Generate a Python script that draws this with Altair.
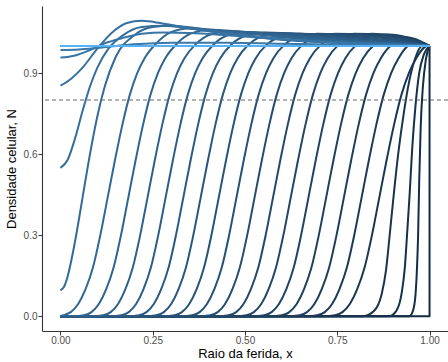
import altair as alt
import numpy as np
import pandas as pd

# ---- values ----
# t = 0 : initial step at the right edge
T0_X = [0.0, 1.0, 1.0]
T0_N = [0.0, 0.0, 1.0]
# early (steep) fronts
T1_X = [0.0, 0.945, 0.955, 0.962, 0.966, 0.969, 0.972, 0.976, 0.982, 0.99, 1.0]
T1_N = [0.0, 0.0, 0.02, 0.08, 0.18, 0.30, 0.50, 0.70, 0.85, 0.95, 1.0]
T2_X = [0.0, 0.89, 0.91, 0.925, 0.933, 0.939, 0.946, 0.953, 0.962, 0.972, 0.985, 1.0]
T2_N = [0.0, 0.0, 0.02, 0.09, 0.18, 0.30, 0.45, 0.62, 0.78, 0.90, 0.97, 1.0]
T3_X = [0.0, 0.82, 0.85, 0.87, 0.882, 0.892, 0.903, 0.915, 0.93, 0.945, 0.96, 0.98, 1.0]
T3_N = [0.0, 0.0, 0.02, 0.08, 0.17, 0.30, 0.45, 0.60, 0.75, 0.87, 0.95, 1.0, 1.0]
# travelling-front profile (offset from the x where N = 0.3)
PROF_DX = [-0.13, -0.10, -0.08, -0.06, -0.04, -0.02, 0.0, 0.02, 0.04, 0.06, 0.08,
           0.10, 0.12, 0.15, 0.19, 0.24, 0.32, 0.42, 0.55, 0.70]
PROF_N = [0.0, 0.004, 0.015, 0.045, 0.10, 0.18, 0.30, 0.44, 0.58, 0.71, 0.82,
          0.90, 0.955, 1.005, 1.035, 1.045, 1.04, 1.03, 1.018, 1.008]
# x where N = 0.3 for t = 4 .. 19
FRONT_X = [0.844, 0.796, 0.748, 0.700, 0.652, 0.604, 0.556, 0.506, 0.457, 0.409,
           0.360, 0.313, 0.265, 0.216, 0.164, 0.108]
FRONT_PEAK = [1.03, 1.035, 1.04, 1.045, 1.045, 1.045, 1.045, 1.045, 1.045, 1.045,
              1.048, 1.05, 1.052, 1.055, 1.06, 1.065]
# approach to N = 1 at the right boundary
TAIL_X = [0.88, 0.93, 0.97, 1.0]
TAIL_F = [1.0, 0.8, 0.45, 0.0]
# curves after the front reached x = 0
T20_X = [0, 0.01, 0.02, 0.03, 0.04, 0.06, 0.08, 0.10, 0.12, 0.15, 0.20, 0.25, 0.30, 0.40, 0.55, 0.70, 0.85, 0.95, 1.0]
T20_N = [0.096, 0.11, 0.15, 0.21, 0.28, 0.44, 0.60, 0.74, 0.85, 0.96, 1.04, 1.07, 1.075, 1.06, 1.03, 1.015, 1.01, 1.005, 1.0]
T21_X = [0, 0.02, 0.04, 0.06, 0.08, 0.10, 0.13, 0.17, 0.22, 0.28, 0.35, 0.45, 0.6, 0.75, 0.9, 1.0]
T21_N = [0.549, 0.58, 0.66, 0.76, 0.85, 0.92, 0.99, 1.04, 1.07, 1.075, 1.065, 1.045, 1.025, 1.012, 1.005, 1.0]
T22_X = [0, 0.03, 0.06, 0.10, 0.14, 0.18, 0.22, 0.27, 0.33, 0.40, 0.5, 0.65, 0.8, 0.9, 1.0]
T22_N = [0.853, 0.88, 0.92, 0.99, 1.05, 1.085, 1.093, 1.085, 1.07, 1.055, 1.04, 1.02, 1.01, 1.005, 1.0]
T23_X = [0, 0.04, 0.08, 0.12, 0.17, 0.22, 0.28, 0.35, 0.45, 0.6, 0.8, 1.0]
T23_N = [0.957, 0.965, 0.985, 1.01, 1.03, 1.045, 1.05, 1.048, 1.04, 1.025, 1.01, 1.0]
T24_X = [0, 0.05, 0.1, 0.15, 0.2, 0.3, 0.45, 0.6, 0.8, 1.0]
T24_N = [0.985, 0.987, 0.993, 1.0, 1.006, 1.012, 1.012, 1.008, 1.004, 1.0]
FLAT_X = [0.0, 1.0]
FLAT_N = [1.0, 1.0]
T_MAX = 40

X_TICKS = [0.0, 0.25, 0.5, 0.75, 1.0]
Y_TICKS = [0.0, 0.3, 0.6, 0.9]
THRESHOLD = 0.8

# ---- build table ----
rows = []


def add(t, xs, ns):
    for i, (x, n) in enumerate(zip(xs, ns)):
        rows.append({"t": t, "i": i, "x": x, "N": n})


add(0, T0_X, T0_N)
add(1, T1_X, T1_N)
add(2, T2_X, T2_N)
add(3, T3_X, T3_N)
for k, (x0, pk) in enumerate(zip(FRONT_X, FRONT_PEAK)):
    xs, ns = [0.0], [0.0]
    for dx, n in zip(PROF_DX, PROF_N):
        x = x0 + dx
        if x <= 0 or x >= 1:
            continue
        if n > 1:
            n = 1 + (n - 1) * (pk - 1) / 0.045
        if x > TAIL_X[0] and n > 1:
            n = 1 + (n - 1) * float(np.interp(x, TAIL_X, TAIL_F))
        xs.append(x)
        ns.append(n)
    xs.append(1.0)
    ns.append(1.0)
    add(4 + k, xs, ns)
add(20, T20_X, T20_N)
add(21, T21_X, T21_N)
add(22, T22_X, T22_N)
add(23, T23_X, T23_N)
add(24, T24_X, T24_N)
for t in range(25, T_MAX + 1):
    add(t, FLAT_X, FLAT_N)

df = pd.DataFrame(rows)
df_step = df[df.t == 0]
df_curves = df[df.t > 0]

FONT = "Liberation Sans"

x_enc = alt.X("x:Q",
              scale=alt.Scale(domain=[-0.05, 1.05], nice=False, zero=False),
              axis=alt.Axis(values=X_TICKS, format=".2f", title="Raio da ferida, x"))
y_enc = alt.Y("N:Q",
              scale=alt.Scale(domain=[-0.0547, 1.148], nice=False, zero=False),
              axis=alt.Axis(values=Y_TICKS, format=".1f", title="Densidade celular, N"))
c_enc = alt.Color("t:Q",
                  scale=alt.Scale(domain=[0, T_MAX], range=["#132B43", "#56B1F7"], interpolate="lab"),
                  legend=None)

step = alt.Chart(df_step).mark_line(strokeWidth=2, strokeJoin="round").encode(
    x=x_enc, y=y_enc, color=c_enc, detail="t:N", order="i:Q")

lines = alt.Chart(df_curves).mark_line(
    strokeWidth=2, strokeJoin="round", interpolate="monotone"
).encode(x=x_enc, y=y_enc, color=c_enc, detail="t:N", order="i:Q")

rule = alt.Chart(pd.DataFrame({"y": [THRESHOLD]})).mark_rule(
    color="#666666", strokeDash=[4, 3], strokeWidth=1.1
).encode(y="y:Q")

chart = alt.layer(step, lines, rule).properties(
    width=406, height=325,
    autosize=alt.AutoSizeParams(type="none"),
    padding={"left": 42, "top": 6, "right": 0, "bottom": 31},
).configure_view(stroke=None).configure_axis(
    grid=False,
    domainColor="#333333",
    domainWidth=1.1,
    tickColor="#333333",
    tickSize=4,
    labelColor="#4D4D4D",
    labelFont=FONT,
    labelFontSize=10,
    labelPadding=1,
    titleFont=FONT,
    titleFontSize=13,
    titleFontWeight="normal",
    titleColor="#000000",
).configure_axisX(labelPadding=0, titlePadding=2).configure_axisY(titlePadding=5)

chart.save("out.html", embed_options={"renderer": "svg", "actions": False})
